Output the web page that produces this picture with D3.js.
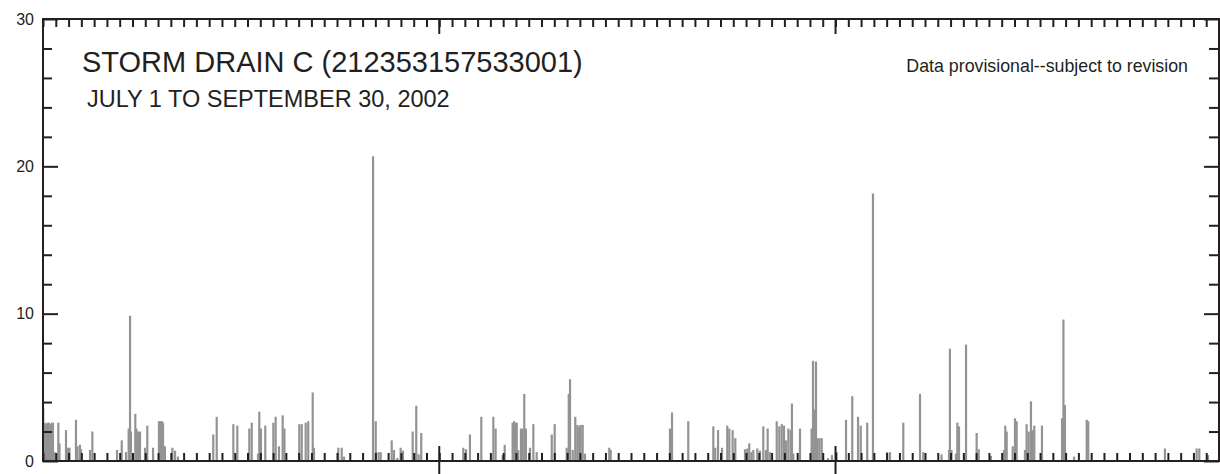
<!DOCTYPE html>
<html>
<head>
<meta charset="utf-8">
<script src="https://cdn.jsdelivr.net/npm/d3@7"></script>
<style>
  html, body { margin: 0; padding: 0; background: #fff; }
  svg { display: block; font-family: "Liberation Sans", Arial, Helvetica, sans-serif; }
</style>
</head>
<body>
<svg id="chart" width="1220" height="474"></svg>
<script>
// readings: days since 2002-07-01 00:00 and the value
const dayOffset = [
  0.02, 0.12, 0.23, 0.35, 0.47, 0.59, 0.70, 0.78, 0.90, 1.02,
  1.20, 1.29, 1.80, 1.96, 2.07, 2.58, 2.70, 2.89, 2.97, 3.68,
  3.86, 5.79, 6.16, 6.49, 6.70, 6.81, 6.88, 7.22, 7.31, 7.43,
  7.59, 7.98, 8.16, 8.61, 9.07, 9.19, 9.31, 9.39, 9.54, 10.12,
  10.33, 10.56, 13.32, 13.59, 14.89, 15.20, 16.14, 16.33, 16.82, 16.92,
  17.05, 17.39, 18.02, 18.20, 18.46, 18.75, 18.89, 20.05, 20.24, 20.55,
  20.75, 21.10, 21.20, 23.10, 23.37, 23.55, 25.82, 26.03, 26.25, 26.42,
  27.28, 27.46, 27.72, 27.98, 28.16, 28.92, 29.20, 29.39, 29.59, 32.88,
  33.09, 33.40, 34.29, 35.23, 35.41, 35.96, 36.12, 36.74, 36.85, 36.96,
  37.06, 37.18, 37.39, 37.51, 37.65, 37.78, 38.10, 38.36, 38.62, 39.80,
  40.03, 40.97, 41.13, 41.23, 41.44, 41.64, 41.80, 41.95, 42.06, 42.22,
  42.40, 44.30, 44.41, 49.05, 49.21, 50.48, 52.44, 52.59, 52.81, 53.12,
  53.53, 53.69, 53.95, 54.16, 54.92, 55.10, 55.25, 55.41, 55.57, 55.88,
  56.09, 56.35, 56.56, 56.69, 56.87, 57.40, 57.60, 57.79, 57.97, 58.13,
  58.31, 58.49, 58.59, 58.70, 59.22, 60.13, 60.24, 60.34, 60.47, 60.60,
  60.75, 60.92, 61.41, 61.72, 62.09, 62.82, 63.31, 63.76, 63.97, 64.48,
  64.93, 66.03, 66.26, 67.30, 68.61, 68.87, 70.30, 70.88, 70.95, 71.07,
  71.42, 71.53, 71.66, 72.21, 73.04, 73.20, 74.16, 75.18, 75.28, 75.39,
  75.86, 76.04, 76.17, 76.82, 76.95, 77.11, 77.29, 77.42, 77.55, 78.15,
  79.72, 79.83, 79.95, 80.66, 81.65, 81.77, 87.77, 90.25, 90.46, 91.14
];
const flow = [
  3.6, 2.6, 2.5, 2.6, 2.6, 2.5, 2.6, 2.6, 0.6, 0.5,
  2.6, 1.2, 2.1, 0.9, 0.9, 2.8, 1.0, 1.1, 0.8, 0.75,
  2.0, 0.75, 1.4, 0.6, 2.2, 9.86, 2.0, 3.2, 2.2, 2.0,
  2.0, 0.9, 2.4, 0.9, 2.7, 2.7, 2.7, 2.6, 1.0, 0.9,
  0.7, 0.3, 1.8, 3.0, 2.5, 2.4, 2.2, 2.6, 0.5, 3.35,
  2.2, 2.4, 2.6, 3.0, 1.0, 3.1, 2.2, 2.5, 2.5, 2.6,
  2.7, 4.65, 0.9, 0.9, 0.9, 0.3, 20.68, 2.7, 0.6, 0.6,
  1.4, 0.75, 0.2, 0.9, 0.7, 2.0, 3.75, 0.45, 1.9, 0.9,
  0.8, 1.8, 3.0, 3.0, 2.2, 0.4, 1.1, 2.6, 2.7, 2.6,
  2.6, 0.75, 2.2, 2.2, 4.55, 2.2, 0.9, 2.5, 0.6, 1.8,
  2.5, 0.9, 4.55, 5.55, 0.75, 3.0, 2.45, 2.35, 2.45, 2.45,
  0.5, 0.9, 0.75, 2.2, 3.3, 2.7, 2.35, 0.9, 2.1, 0.9,
  2.4, 2.2, 2.1, 1.55, 0.8, 0.85, 1.2, 0.6, 0.75, 0.85,
  0.7, 2.35, 0.75, 2.2, 0.6, 2.7, 2.35, 2.5, 2.4, 1.4,
  2.2, 2.1, 3.9, 0.5, 2.2, 2.2, 6.8, 3.5, 6.75, 1.55,
  1.55, 1.55, 0.2, 0.4, 0.6, 2.8, 4.4, 3.0, 2.4, 2.6,
  18.16, 0.6, 0.6, 2.6, 4.55, 0.6, 0.45, 0.75, 7.62, 0.75,
  0.5, 2.6, 2.35, 7.9, 1.9, 0.8, 0.35, 0.75, 2.4, 2.0,
  1.0, 2.9, 2.7, 0.75, 2.5, 2.0, 4.05, 2.1, 2.4, 2.4,
  2.9, 9.6, 3.8, 0.3, 2.8, 2.7, 0.85, 0.85, 0.85, 0.4
];
const yTickValues = [0, 2, 4, 6, 8, 10, 12, 14, 16, 18, 20, 22, 24, 26, 28, 30];
const yLabelled = [0, 10, 20, 30];
const titleText = "STORM DRAIN C (212353157533001)";
const subtitleText = "JULY 1 TO SEPTEMBER 30, 2002";
const noteText = "Data provisional--subject to revision";

const svg = d3.select("#chart");
const plotLeft = 43, plotRight = 1219, plotTop = 19, plotBottom = 461;
const ink = "#231f20";

const start = new Date(Date.UTC(2002, 6, 1));
const end = new Date(Date.UTC(2002, 9, 1));
const toDate = t => new Date(start.getTime() + t * 864e5);

const x = d3.scaleUtc().domain([start, end]).range([plotLeft, plotRight]);
const y = d3.scaleLinear().domain([0, 30]).range([plotBottom, plotTop]);

const days = d3.utcDay.range(start, d3.utcDay.offset(end, 1));
const months = d3.utcMonth.range(d3.utcDay.offset(start, 1), end);

// readings as thin needles from zero
svg.append("g")
    .attr("stroke", "#939393")
    .attr("stroke-width", 2.2)
    .selectAll("line")
    .data(d3.zip(dayOffset, flow))
    .join("line")
    .attr("x1", d => x(toDate(d[0])))
    .attr("x2", d => x(toDate(d[0])))
    .attr("y1", y(0))
    .attr("y2", d => y(d[1]));

// bottom day ticks (pointing in)
const bottomAxis = svg.append("g")
    .attr("transform", `translate(0,${plotBottom})`)
    .call(d3.axisTop(x).tickValues(days).tickSize(8).tickFormat(""));
bottomAxis.select(".domain").remove();

// top day ticks
const topAxis = svg.append("g")
    .attr("transform", `translate(0,${plotTop})`)
    .call(d3.axisBottom(x).tickValues(days).tickSize(8).tickFormat(""));
topAxis.select(".domain").remove();

[bottomAxis, topAxis].forEach(g => g.selectAll("line").attr("stroke", ink).attr("stroke-width", 2));

// month boundaries
svg.append("g")
    .attr("stroke", ink)
    .attr("stroke-width", 2)
    .selectAll("line")
    .data(months)
    .join("line")
    .attr("x1", d => x(d)).attr("x2", d => x(d))
    .attr("y1", plotBottom - 15).attr("y2", plotBottom + 13);
svg.append("g")
    .attr("stroke", ink)
    .attr("stroke-width", 2)
    .selectAll("line")
    .data(months)
    .join("line")
    .attr("x1", d => x(d)).attr("x2", d => x(d))
    .attr("y1", plotTop).attr("y2", plotTop + 15);

// left value axis
const leftAxis = svg.append("g")
    .attr("transform", `translate(${plotLeft},0)`)
    .call(d3.axisLeft(y).tickValues(yTickValues).tickSize(-9).tickPadding(9)
        .tickFormat(d => yLabelled.includes(d) ? d : ""));
leftAxis.select(".domain").remove();
leftAxis.selectAll("line").attr("stroke", ink).attr("stroke-width", 2);
leftAxis.selectAll(".tick").filter(d => yLabelled.includes(d)).select("line").attr("x2", 15);
leftAxis.selectAll("text")
    .attr("fill", ink)
    .style("font-size", "16px")
    .style("font-family", "'Liberation Sans', Arial, sans-serif");

// right value axis
const rightAxis = svg.append("g")
    .attr("transform", `translate(${plotRight},0)`)
    .call(d3.axisLeft(y).tickValues(yTickValues).tickSize(10).tickFormat(""));
rightAxis.select(".domain").remove();
rightAxis.selectAll("line").attr("stroke", ink).attr("stroke-width", 2);
rightAxis.selectAll(".tick").filter(d => yLabelled.includes(d)).select("line").attr("x2", -15);

// frame
svg.append("rect")
    .attr("x", plotLeft).attr("y", plotTop)
    .attr("width", plotRight - plotLeft).attr("height", plotBottom - plotTop)
    .attr("fill", "none")
    .attr("stroke", ink)
    .attr("stroke-width", 2);

// titles
svg.append("text")
    .attr("x", 82).attr("y", 72)
    .attr("fill", ink)
    .style("font-size", "29px")
    .text(titleText);
svg.append("text")
    .attr("x", 87).attr("y", 107)
    .attr("fill", ink)
    .style("font-size", "23.5px")
    .text(subtitleText);
svg.append("text")
    .attr("x", 1188).attr("y", 72)
    .attr("text-anchor", "end")
    .attr("fill", ink)
    .style("font-size", "17.8px")
    .text(noteText);
</script>
</body>
</html>
